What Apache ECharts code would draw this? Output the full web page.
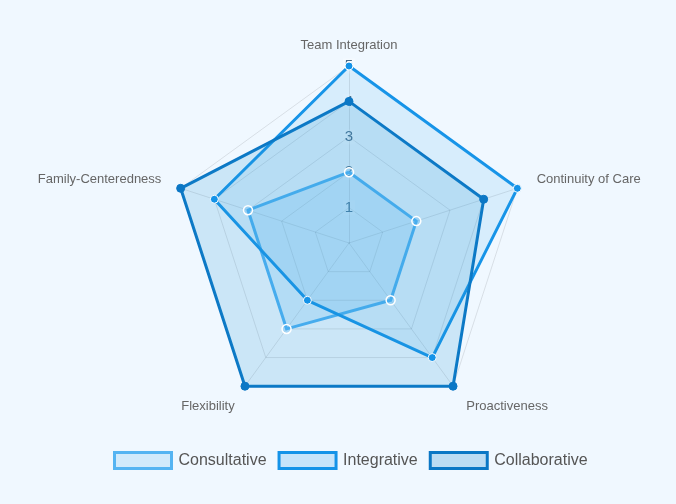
<!DOCTYPE html>
<html>
<head>
<meta charset="utf-8">
<script src="https://cdn.jsdelivr.net/npm/echarts@6/dist/echarts.min.js"></script>
<style>
  html, body { margin: 0; padding: 0; background: #f0f8ff; }
  #chart { width: 676px; height: 504px; }
</style>
</head>
<body>
<div id="chart"></div>
<script>
  // indicators in the order echarts lays them out (counter-clockwise from top)
  const indicators = ['Team Integration', 'Family-Centeredness', 'Flexibility', 'Proactiveness', 'Continuity of Care']
  const maxValue = 5
  const consultative = [2, 3, 3, 2, 2]
  const integrative = [5, 4, 2, 4, 5]
  const collaborative = [4, 5, 5, 5, 4]

  // small nudges so the names sit where the reference puts them
  const nameStyle = {
    'Team Integration': 't',
    'Family-Centeredness': 'fl',
    'Flexibility': 'bl',
    'Proactiveness': 'br',
    'Continuity of Care': 'fr'
  }

  const myChart = echarts.init(document.getElementById('chart'))

  const option = {
    backgroundColor: '#f0f8ff',
    legend: {
      bottom: 29,
      left: 108,
      icon: 'rect',
      itemWidth: 57,
      itemHeight: 16,
      itemGap: 11,
      textStyle: { color: '#555', fontSize: 16, fontFamily: 'Helvetica, Arial, sans-serif', padding: [0, 0, 0, 2] },
      data: [
        { name: 'Consultative', itemStyle: { color: '#d2eafb', borderColor: '#55b4f2', borderWidth: 3 } },
        { name: 'Integrative', itemStyle: { color: '#c6e4fa', borderColor: '#1493e8', borderWidth: 3 } },
        { name: 'Collaborative', itemStyle: { color: '#bcdcf3', borderColor: '#0b77c5', borderWidth: 3 } }
      ]
    },
    radar: {
      center: [349, 243],
      radius: 177,
      shape: 'polygon',
      splitNumber: 5,
      nameGap: 14,
      axisName: {
        color: '#666',
        fontSize: 13,
        fontFamily: 'Helvetica, Arial, sans-serif',
        formatter: function (name) {
          return '{' + nameStyle[name] + '|' + name + '}'
        },
        rich: {
          t: { color: '#666', fontSize: 13, padding: [0, 0, 0, 0] },
          fl: { color: '#666', fontSize: 13, padding: [0, 6, 9, 0] },
          fr: { color: '#666', fontSize: 13, padding: [0, 0, 9, 6] },
          bl: { color: '#666', fontSize: 13, padding: [18, 2, 0, 0] },
          br: { color: '#666', fontSize: 13, padding: [18, 0, 0, 5] }
        }
      },
      axisLine: { lineStyle: { color: 'rgba(0,0,0,0.1)' } },
      splitLine: { lineStyle: { color: 'rgba(0,0,0,0.1)' } },
      splitArea: { show: false },
      axisLabel: { show: false },
      indicator: indicators.map(function (name, i) {
        const ind = { name: name, min: 0, max: maxValue }
        if (i === 0) {
          ind.axisLabel = {
            show: true,
            showMinLabel: false,
            align: 'center',
            margin: 0,
            color: '#4a6a86',
            fontSize: 15,
            backgroundColor: 'rgba(255,255,255,0.25)',
            padding: [0, 2]
          }
        }
        return ind
      })
    },
    series: [{
      type: 'radar',
      symbol: 'circle',
      data: [
        {
          name: 'Consultative',
          value: consultative,
          symbolSize: 9,
          lineStyle: { color: '#4fb2f4', width: 3 },
          itemStyle: { color: 'rgba(79,178,244,0.3)', borderColor: '#fff', borderWidth: 1.5 },
          areaStyle: { color: 'rgba(80,180,245,0.25)' }
        },
        {
          name: 'Integrative',
          value: integrative,
          symbolSize: 8,
          lineStyle: { color: '#1493e8', width: 3 },
          itemStyle: { color: '#1493e8', borderColor: '#fff', borderWidth: 1 },
          areaStyle: { color: 'rgba(65,168,235,0.2)' }
        },
        {
          name: 'Collaborative',
          value: collaborative,
          symbolSize: 8,
          lineStyle: { color: '#0b77c5', width: 3 },
          itemStyle: { color: '#0b77c5', borderColor: '#0b77c5', borderWidth: 1 },
          areaStyle: { color: 'rgba(32,148,207,0.25)' }
        }
      ]
    }]
  }

  myChart.setOption(option)
</script>
</body>
</html>
